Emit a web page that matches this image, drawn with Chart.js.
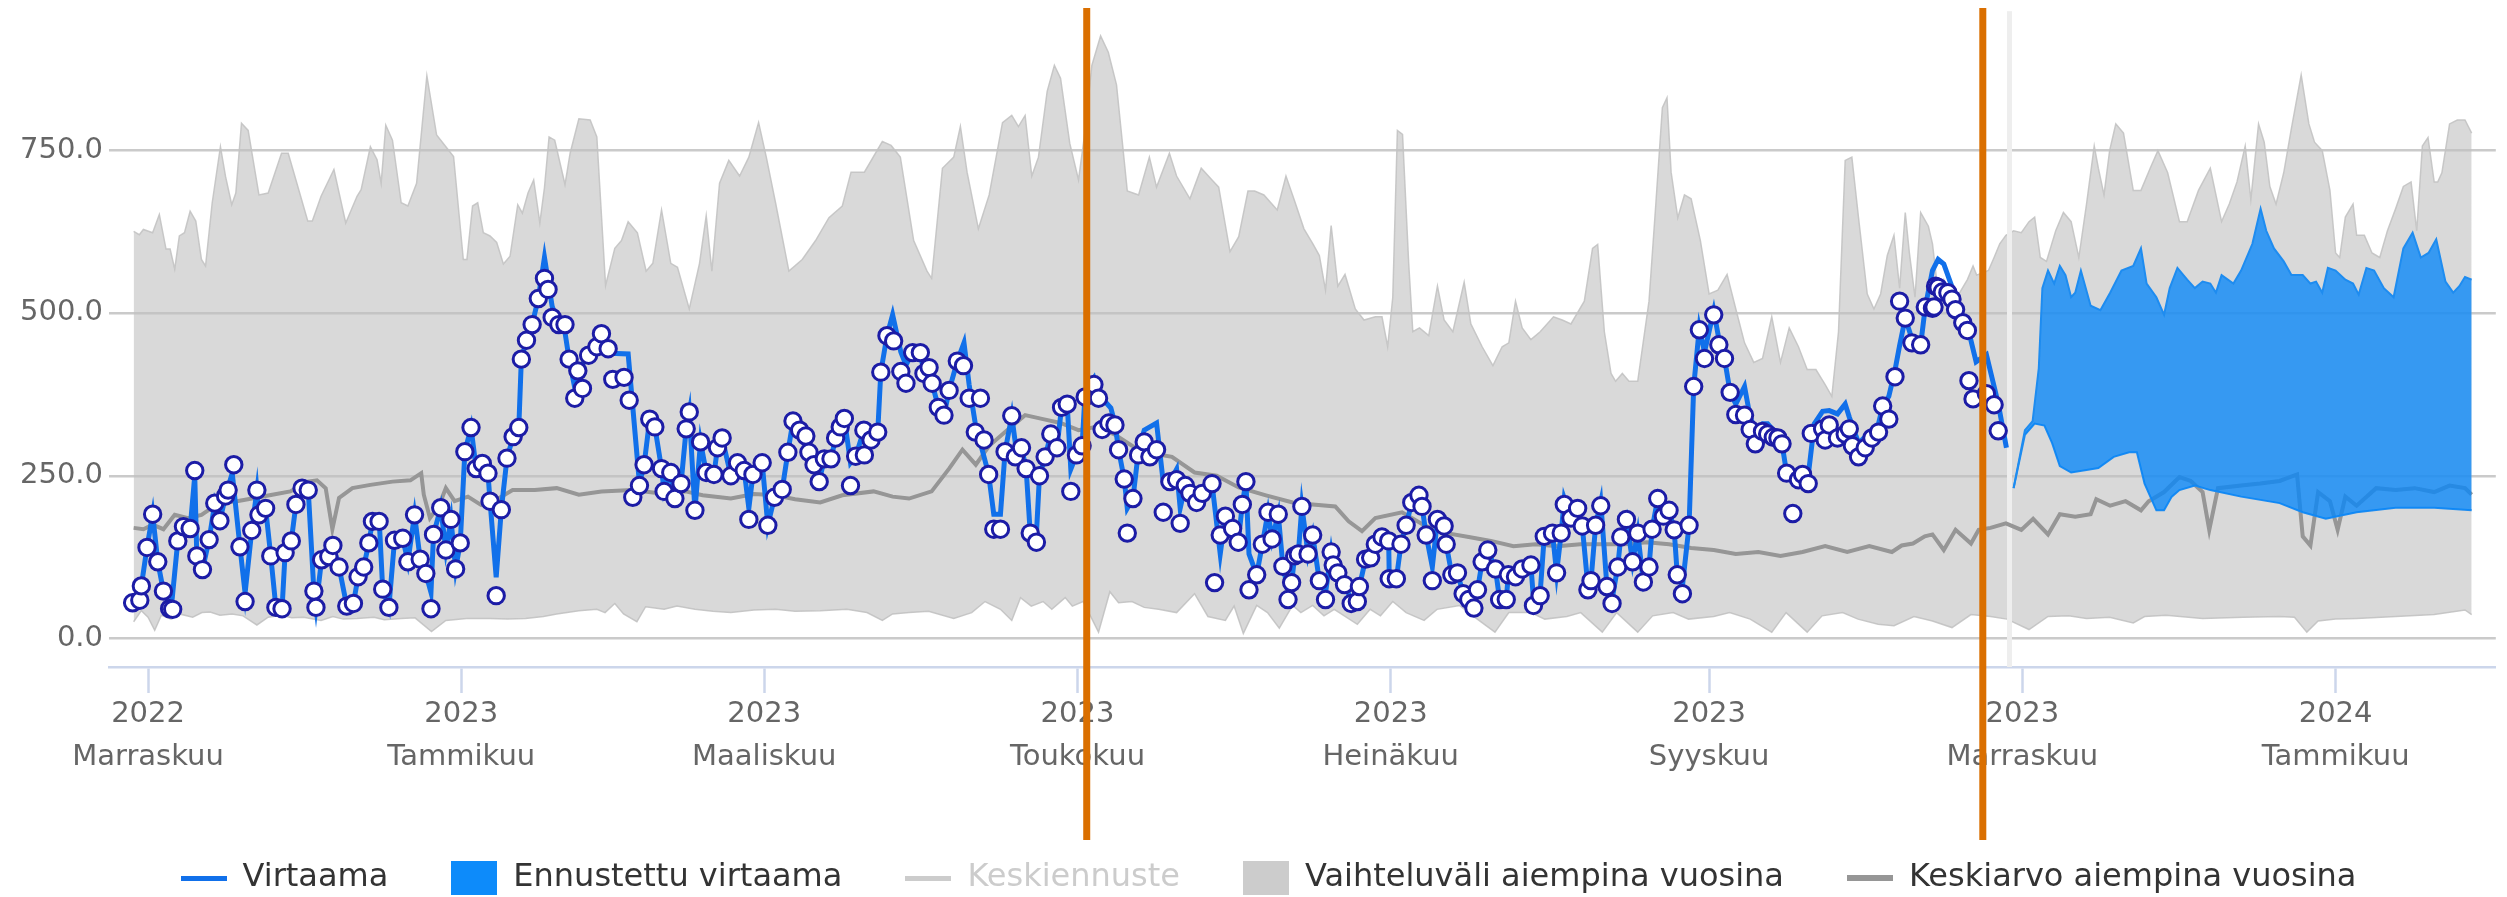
<!DOCTYPE html>
<html><head><meta charset="utf-8">
<script src="https://cdn.jsdelivr.net/npm/chart.js@4.4.0/dist/chart.umd.min.js"></script>
<style>html,body{margin:0;padding:0;background:#fff}#wrap{width:2507px;height:897px}</style>
</head><body><div id="wrap"><canvas id="c" width="2507" height="897"></canvas></div>
<script>
// x values are days counted from 2022-11-01
const tickDays = [0, 61, 120, 181, 242, 304, 365, 426];
const tickYears = ['2022','2023','2023','2023','2023','2023','2023','2024'];
const tickMonths = ['Marraskuu','Tammikuu','Maaliskuu','Toukokuu','Heinäkuu','Syyskuu','Marraskuu','Tammikuu'];
const yTickValues = [0, 250, 500, 750];
const nowDay = 362.5;
const orangeDays = [182.8, 357.3];

const flowLine = [[-3.0,55],[-1.3,81],[-0.2,140],[0.9,191],[1.9,118],[3.0,73],[4.5,45],[5.8,150],[6.9,172],[8.2,169],[9.1,250],[9.5,127],[10.6,106],[11.9,152],[13.0,208],[14.0,181],[15.1,219],[16.4,254],[17.9,141],[18.9,70],[20.2,166],[21.2,228],[21.6,190],[22.9,200],[23.9,127],[24.9,48],[26.1,46],[26.7,132],[27.9,150],[28.8,206],[30.0,235],[31.2,228],[32.3,73],[32.7,48],[33.8,121],[35.2,126],[36.0,143],[37.2,110],[38.7,50],[40.0,54],[40.9,95],[42.0,110],[43.0,147],[43.7,180],[45.0,185],[45.7,76],[46.9,48],[48.0,151],[49.6,154],[50.6,118],[51.9,190],[53.0,122],[54.1,100],[55.1,71],[55.6,160],[57.0,201],[58.0,136],[59.0,183],[59.9,107],[60.8,147],[61.7,287],[62.9,324],[63.9,261],[65.1,269],[66.2,254],[66.6,211],[67.8,94],[68.8,198],[69.9,277],[71.1,310],[72.2,324],[72.7,429],[73.7,458],[74.8,482],[76.0,522],[77.2,585],[78.7,510],[80.0,482],[81.2,470],[82.0,429],[83.1,385],[83.7,411],[84.6,420],[85.8,440],[87.2,450],[88.7,440],[90.0,438],[93.5,437],[95.7,238],[96.6,267],[97.7,337],[98.7,325],[100.0,261],[100.5,226],[101.8,255],[102.6,215],[103.8,238],[104.8,322],[105.4,348],[106.5,197],[107.6,302],[108.7,255],[110.2,252],[110.9,293],[111.8,308],[113.5,250],[114.8,270],[116.1,258],[117.0,200],[117.8,252],[119.6,270],[120.7,174],[122.0,217],[123.5,229],[124.6,286],[125.6,334],[126.9,320],[128.1,311],[128.7,286],[129.7,267],[130.7,241],[131.7,276],[133.0,276],[133.9,308],[134.8,325],[135.6,338],[136.8,270],[137.8,280],[139.4,320],[140.8,305],[142.1,317],[142.7,409],[143.9,465],[145.0,497],[146.6,440],[147.6,420],[148.9,439],[150.4,439],[151.1,407],[152.1,416],[152.7,392],[153.9,355],[155.0,343],[156.0,381],[157.6,426],[158.9,454],[159.9,390],[161.1,330],[162.1,300],[163.7,252],[164.7,191],[166.0,191],[166.9,287],[168.2,342],[168.9,300],[170.1,293],[171.0,261],[171.8,162],[173.0,160],[173.6,250],[174.7,279],[175.8,314],[177.0,293],[177.9,355],[179.0,360],[179.7,260],[180.8,282],[181.9,296],[182.5,380],[184.2,400],[185.1,375],[187.5,354],[188.3,330],[189.0,290],[190.1,245],[190.7,200],[191.8,215],[192.9,290],[194.0,320],[195.1,325],[196.4,331],[197.7,240],[199.0,241],[200.3,260],[201.0,200],[202.0,235],[202.9,225],[204.2,215],[205.3,223],[207.2,238],[208.8,130],[209.8,188],[211.2,169],[212.3,148],[213.1,206],[213.8,241],[214.4,130],[215.9,98],[217.0,145],[218.1,194],[218.9,153],[220.1,191],[221.0,111],[222.0,75],[222.7,86],[223.3,127],[224.0,130],[224.7,203],[225.9,130],[226.8,159],[228.1,89],[229.3,70],[230.4,133],[230.8,113],[231.7,101],[233.0,83],[234.3,60],[235.9,80],[237.1,122],[238.1,124],[239.0,145],[240.3,160],[241.6,150],[241.7,100],[243.1,92],[244.0,145],[245.0,174],[246.1,209],[247.5,225],[248.1,203],[248.9,159],[250.1,110],[251.1,183],[252.4,173],[252.8,145],[253.9,98],[255.0,101],[256.1,69],[257.2,60],[258.2,50],[258.9,75],[259.8,118],[260.9,136],[262.4,107],[263.2,60],[264.5,60],[264.9,98],[266.3,95],[267.6,107],[269.3,113],[269.8,60],[271.1,70],[271.9,157],[273.5,162],[274.3,101],[275.2,162],[275.8,215],[277.1,185],[278.4,200],[279.3,173],[280.4,80],[281.0,89],[281.9,174],[282.9,210],[284.1,80],[285.1,60],[286.2,110],[286.8,156],[287.9,183],[289.1,118],[290.1,162],[291.2,87],[292.3,110],[292.9,168],[294.0,215],[295.1,188],[296.2,197],[297.2,167],[297.8,98],[298.8,80],[300.1,174],[301.0,387],[302.1,477],[303.1,440],[304.9,503],[305.9,460],[307.0,430],[308.1,378],[309.2,360],[310.9,387],[312.0,340],[313.0,320],[314.4,330],[315.4,330],[316.5,320],[317.4,315],[318.2,299],[319.1,254],[320.3,240],[321.4,244],[322.2,252],[323.3,250],[324.5,330],[326.1,349],[327.4,350],[329.0,345],[330.5,360],[331.3,340],[333.1,300],[334.4,310],[335.7,320],[337.0,330],[337.8,357],[339.0,372],[340.2,412],[341.1,450],[342.2,492],[343.5,460],[345.2,451],[346.1,509],[347.5,565],[348.6,582],[349.7,575],[351.3,540],[352.8,505],[354.3,480],[356.0,425],[358.0,436],[360.3,361],[361.9,293]];

const flowObs = [[-3.0,55],[-1.6,59],[-1.3,81],[-0.2,140],[0.9,191],[1.9,118],[3.0,73],[4.2,46],[4.8,45],[5.8,150],[6.9,172],[8.2,169],[9.1,258],[9.5,127],[10.6,106],[11.9,152],[13.0,208],[14.0,181],[15.1,219],[15.6,228],[16.7,267],[17.9,141],[18.9,57],[20.2,166],[21.2,228],[21.6,190],[22.9,200],[23.9,127],[24.9,48],[26.1,46],[26.7,132],[27.9,150],[28.8,206],[30.0,231],[31.2,228],[32.3,73],[32.7,48],[33.8,121],[35.2,126],[36.0,143],[37.2,110],[38.7,50],[40.0,54],[40.9,95],[42.0,110],[43.0,147],[43.7,180],[45.0,180],[45.7,76],[46.9,48],[48.0,151],[49.6,154],[50.6,118],[51.9,190],[53.0,122],[54.1,100],[55.1,46],[55.6,160],[57.0,201],[58.0,136],[59.0,183],[59.9,107],[60.8,147],[61.7,287],[62.9,324],[63.9,261],[65.1,269],[66.2,254],[66.6,211],[67.8,66],[68.8,198],[69.9,277],[71.1,310],[72.2,324],[72.7,429],[73.7,458],[74.8,482],[76.0,522],[77.2,553],[77.9,536],[78.7,493],[80.0,482],[81.2,482],[82.0,429],[83.1,369],[83.7,411],[84.6,384],[85.8,435],[87.4,448],[88.3,468],[89.6,445],[90.5,398],[92.7,401],[93.7,366],[94.4,217],[95.7,235],[96.6,267],[97.7,337],[98.7,325],[100.0,261],[100.5,226],[101.8,255],[102.6,215],[103.8,238],[104.8,322],[105.4,348],[106.5,197],[107.6,302],[108.7,255],[110.2,252],[110.9,293],[111.8,308],[113.5,250],[114.8,270],[116.1,258],[117.0,183],[117.8,252],[119.6,270],[120.7,174],[122.0,217],[123.5,229],[124.6,286],[125.6,334],[126.9,320],[128.1,311],[128.7,286],[129.7,267],[130.7,241],[131.7,276],[133.0,276],[133.9,308],[134.8,325],[135.6,338],[136.8,235],[137.8,280],[139.4,320],[139.5,282],[140.8,305],[142.1,317],[142.7,409],[143.9,465],[145.2,457],[146.6,410],[147.6,392],[148.9,439],[150.4,439],[151.1,407],[152.1,416],[152.7,392],[153.9,355],[155.0,343],[156.0,381],[157.6,426],[158.8,419],[159.9,369],[161.1,317],[162.1,369],[162.8,305],[163.7,252],[164.7,168],[166.0,168],[166.9,287],[168.2,342],[168.9,279],[170.1,293],[171.0,261],[171.8,162],[173.0,148],[173.6,250],[174.7,279],[175.8,314],[177.0,293],[177.9,355],[179.0,360],[179.7,226],[180.8,282],[181.9,296],[182.5,371],[184.2,390],[185.1,369],[185.8,321],[187.1,331],[188.3,328],[189.0,290],[190.1,245],[190.7,162],[191.8,215],[192.9,282],[194.0,302],[195.1,279],[196.4,290],[197.7,194],[199.0,241],[200.3,244],[201.0,177],[202.0,235],[202.9,223],[204.2,209],[205.3,223],[207.2,238],[207.7,86],[208.8,159],[209.8,188],[211.2,169],[212.3,148],[213.1,206],[213.8,241],[214.4,75],[215.9,98],[217.0,145],[218.1,194],[218.9,153],[220.1,191],[221.0,111],[222.0,60],[222.7,86],[223.3,127],[224.0,130],[224.7,203],[225.9,130],[226.8,159],[228.1,89],[229.3,60],[230.4,133],[230.8,113],[231.7,101],[233.0,83],[234.3,54],[235.5,57],[235.9,80],[237.1,122],[238.1,124],[239.0,145],[240.3,156],[241.6,150],[241.7,92],[243.1,92],[244.0,145],[245.0,174],[246.1,209],[247.5,220],[248.1,203],[248.9,159],[250.1,89],[251.1,183],[252.4,173],[252.8,145],[253.9,98],[255.0,101],[256.1,69],[257.2,60],[258.2,47],[258.9,75],[259.8,118],[260.9,136],[262.4,107],[263.2,60],[264.5,60],[264.9,98],[266.3,95],[267.6,107],[269.3,113],[269.8,51],[271.1,66],[271.9,157],[273.5,162],[274.3,101],[275.2,162],[275.8,206],[277.1,185],[278.4,200],[279.3,173],[280.4,75],[281.0,89],[281.9,174],[282.9,204],[284.1,80],[285.1,54],[286.2,110],[286.8,156],[287.9,183],[289.1,118],[290.1,162],[291.2,87],[292.3,110],[292.9,168],[294.0,215],[295.1,188],[296.2,197],[297.2,167],[297.8,98],[298.8,69],[300.1,174],[301.0,387],[302.1,474],[303.1,430],[304.9,497],[305.9,451],[307.0,430],[308.1,378],[309.2,344],[310.9,343],[312.0,321],[313.0,299],[314.4,318],[315.4,314],[316.5,309],[317.4,308],[318.2,299],[319.1,254],[320.3,192],[321.4,244],[322.2,252],[323.3,238],[323.9,315],[326.1,322],[326.6,305],[327.4,328],[329.0,308],[330.5,314],[331.3,322],[331.9,296],[333.1,279],[334.4,293],[335.7,308],[337.0,317],[337.8,357],[339.0,337],[340.2,402],[341.1,518],[342.2,492],[343.5,454],[345.2,451],[346.1,509],[347.5,507],[347.8,509],[348.1,541],[348.6,539],[349.4,532],[350.5,531],[351.3,521],[352.0,505],[353.4,485],[354.3,473],[354.6,396],[355.4,368],[358.0,376],[359.5,359],[360.3,319]];

const rangeMax = [[-2.8,625],[-1.7,620],[-0.9,628],[0.9,623],[2.2,651],[3.5,598],[4.3,598],[5.2,567],[6.1,618],[7.1,623],[8.2,656],[9.3,641],[10.4,582],[11.2,572],[12.5,669],[14.1,755],[15.1,709],[16.3,666],[17.1,684],[18.2,791],[19.5,780],[21.6,681],[23.4,684],[26,745],[27.3,745],[31.1,641],[32,641],[33.7,679],[36.2,720],[38.5,638],[40.7,679],[41.5,689],[43.3,755],[44.6,735],[45.4,699],[46.3,788],[47.6,765],[49.3,669],[50.6,664],[52.3,699],[54.3,864],[56.2,773],[58,755],[59.5,740],[61.4,582],[62.1,582],[63.2,664],[64.2,669],[65.3,623],[66.6,618],[67.9,608],[69.2,575],[70.5,587],[72,666],[72.9,653],[74,684],[75.1,704],[76.3,638],[77.2,692],[78.1,770],[79.2,765],[81.2,697],[82.2,745],[83.9,798],[86.1,796],[87.4,770],[89.1,542],[90.9,599],[92.2,611],[93.5,640],[95.3,623],[97,564],[98.3,576],[100,658],[101.8,576],[103.1,570],[105.4,506],[107.4,576],[108.7,649],[109.8,564],[111.3,699],[113.1,734],[115.2,710],[117,739],[118.9,792],[120.4,739],[122.2,669],[124.8,564],[127.4,582],[130,611],[132.6,646],[135.2,664],[136.9,716],[139.5,716],[143,763],[144.7,757],[146.5,739],[149.1,611],[151.7,564],[152.6,553],[154.7,722],[156.9,739],[158.2,786],[159.5,716],[161.7,629],[163.8,681],[166.4,792],[168.2,803],[169.5,786],[170.8,803],[172.1,710],[173.4,739],[175.1,840],[176.5,880],[177.7,860],[179.5,760],[181.2,704],[182.5,780],[183.8,880],[185.5,925],[187,900],[188.6,850],[190.7,687],[192.9,681],[195,739],[196.4,693],[198.9,745],[200.3,710],[202.9,675],[205.1,722],[207.2,704],[208.5,693],[210.7,594],[212.4,617],[214.2,687],[215.5,687],[217.3,681],[219.9,658],[221.6,710],[223.4,669],[225.1,629],[226.9,605],[228.1,588],[229.3,535],[230.4,634],[231.7,541],[233.1,559],[235.1,506],[236.8,489],[239,494],[240.3,494],[241.4,448],[242.4,524],[243.3,780],[244.3,774],[245.5,576],[246.3,471],[247.6,477],[249.4,465],[251.1,541],[252.4,489],[254.1,471],[256.3,547],[257.6,483],[259.8,448],[261.9,419],[263.7,448],[265,454],[266.3,518],[267.6,477],[269.3,459],[271.1,471],[273.7,494],[275.4,489],[277.1,483],[279.7,518],[281.3,599],[282.3,605],[283.6,471],[284.9,407],[285.8,395],[287.1,407],[288.4,395],[290.1,395],[292.3,518],[293.6,664],[294.9,815],[295.8,830],[296.6,716],[297.9,646],[299.2,681],[300.5,675],[302.3,611],[304,529],[305.7,535],[307.5,559],[309.2,506],[310.9,454],[312.7,424],[314.4,430],[316.2,494],[317.9,424],[319.6,477],[321.4,448],[323.1,413],[324.8,413],[326.6,390],[327.9,372],[329.2,471],[330.5,734],[331.8,739],[333.1,646],[334.8,529],[336.1,506],[337.4,529],[338.7,588],[340,619],[341.1,538],[342.2,654],[343,592],[344.1,524],[345.2,654],[346.7,633],[347.5,606],[348.6,531],[349.7,551],[351.3,524],[352.8,531],[354.3,551],[355.4,572],[356.1,558],[358.4,565],[359.5,585],[360.6,606],[361.8,619],[363.3,626],[364.8,623],[366.3,640],[367.4,647],[368.5,585],[369.7,579],[371.5,626],[373,654],[374.5,640],[376,585],[377.5,667],[379,756],[379.8,722],[380.9,681],[382,749],[383.2,790],[384.7,776],[386.6,688],[388.1,688],[389.9,722],[391.4,749],[393.3,715],[395.6,640],[397.1,640],[399.3,688],[401.6,722],[403.8,640],[405.3,667],[406.8,701],[408.4,756],[409.5,674],[411,790],[412.1,762],[413.2,694],[414.4,667],[415.9,715],[417.4,783],[419.3,865],[420.8,790],[421.9,762],[423.4,749],[424.9,688],[426,592],[426.8,585],[427.9,647],[429.4,667],[430.1,619],[431.6,619],[433.1,592],[434.6,585],[436.1,626],[437.7,660],[439.2,694],[440.7,701],[441.8,626],[442.9,756],[444,769],[445.2,701],[445.9,701],[446.7,715],[448.2,790],[449.7,796],[451.2,796],[452.5,776]];

const rangeMin = [[-2.8,26],[-1.3,43],[0,33],[1.3,13],[2.6,36],[4.5,30],[6.1,38],[8.7,33],[10.5,40],[12.1,41],[14,36],[16.4,38],[18.5,35],[21.2,21],[23.4,33],[26,36],[28,32],[30.3,33],[33.7,28],[36,34],[38,30],[40.7,31],[44,33],[46,29],[49.3,31],[52,32],[55.2,11],[58,28],[62,31],[66.6,31],[70,30],[73.5,31],[77,34],[79.6,38],[83.9,43],[87.4,45],[89,40],[90.9,54],[92.6,38],[95.2,26],[96.9,49],[100.5,45],[103,50],[106.5,45],[110,42],[113.5,40],[118,44],[122.2,45],[126,42],[130.9,43],[136.1,45],[140,40],[143,28],[145,38],[148.2,40],[152,42],[156.9,31],[160.4,40],[163,57],[166,45],[168.2,28],[169.9,63],[172,50],[174.3,57],[176,45],[178.6,63],[180,50],[182.1,57],[185.1,10],[187.3,72],[189,55],[191.6,57],[194,48],[196.8,45],[200.3,40],[203.8,69],[206.4,34],[209.8,28],[211.5,50],[213.3,8],[215.9,51],[218,40],[220.3,16],[222.9,51],[224.5,40],[226.8,51],[229,35],[231,45],[235.5,22],[238,45],[240,35],[242.4,57],[245,40],[248.5,28],[251,45],[255.4,51],[258,35],[262.3,10],[265,40],[269.3,40],[272,30],[276.3,34],[279,40],[283.2,10],[286,40],[290.1,10],[293,35],[297,40],[300,30],[304.9,34],[308,40],[312,30],[316.2,10],[319,40],[323.1,10],[326,35],[330,40],[333,30],[336.9,22],[340,20],[343.9,34],[347.5,27],[351.3,17],[355,37],[358.8,34],[362,30],[366.3,14],[370,34],[374,35],[377.5,31],[382,33],[386.6,24],[388.8,34],[393,36],[400.1,31],[408,33],[415.1,34],[418,33],[420.4,10],[422.6,27],[426,30],[430.1,31],[437.7,34],[445.2,37],[451.2,44],[452.5,37]];

const meanPrev = [[-2.8,170],[-0.9,168],[0.9,175],[3,168],[5.2,190],[7.8,185],[10.4,190],[13.8,208],[17.3,211],[20.8,216],[24.2,221],[27.7,226],[31.1,241],[32.9,243],[34.6,231],[35.9,168],[37.2,216],[39.8,231],[43.3,236],[47.6,241],[51.1,243],[53.2,254],[53.7,221],[54.9,185],[56.7,205],[58,231],[59.7,211],[62.3,218],[64.9,205],[68.4,216],[71,228],[75.3,228],[79.6,231],[83.9,221],[88.3,226],[94.3,228],[99.5,223],[104.7,226],[108,220],[113.5,215],[118,222],[122.2,220],[126,214],[130.9,209],[135.2,220],[141.3,226],[145,218],[148.2,215],[152.6,226],[156,261],[158.6,290],[161.2,267],[163.8,296],[167.3,320],[170.8,343],[174.3,337],[177.7,331],[181.2,320],[184.7,325],[188.1,314],[191.6,296],[195.1,285],[199.4,279],[203.8,255],[208.1,250],[212.4,232],[217.7,220],[222.9,209],[226.8,206],[231.2,203],[233.8,180],[236.4,165],[239,185],[244.2,194],[248.5,174],[252.9,162],[257.2,156],[261.5,150],[265.9,142],[270.2,145],[274.5,142],[278.9,145],[283.2,145],[287.5,145],[291.9,148],[296.2,145],[300.5,139],[304.9,136],[309.2,130],[313.6,133],[317.9,127],[322.2,133],[326.6,142],[330.9,133],[335.2,142],[339.6,133],[341.5,143],[343.7,146],[346,157],[347.5,160],[349.7,136],[352,167],[355,146],[356.5,167],[358.8,170],[361.8,177],[364.8,167],[367.1,184],[370,160],[372.3,191],[375.3,187],[378.3,191],[379.4,214],[382.1,204],[385.1,211],[388.1,197],[389.6,211],[392.6,225],[395.6,248],[397.8,242],[400.1,225],[401.4,167],[403.1,231],[407.6,235],[411.3,238],[415.1,242],[418.5,252],[419.6,157],[421.1,143],[422.6,225],[424.9,211],[426.4,167],[427.9,218],[430.1,204],[433.9,231],[437.7,228],[441.4,231],[445.2,225],[448.2,235],[451.2,231],[452.5,221]];

const forecastHigh = [[363.3,231],[365.5,320],[367,334],[368.2,415],[368.9,538],[370,565],[371.2,545],[372.3,572],[373.4,558],[374.5,524],[375.3,531],[376.4,565],[378.3,511],[380.2,504],[382.1,531],[384.3,565],[386.6,572],[388.1,599],[389.2,545],[391.1,524],[392.6,497],[393.7,538],[395.2,569],[397.1,551],[398.6,538],[400.1,548],[401.6,545],[402.7,531],[403.8,558],[406.1,545],[407.6,565],[409.8,606],[411.4,660],[412.5,626],[414,599],[415.9,579],[417.4,558],[419.6,558],[421.1,545],[422.2,548],[423.4,531],[424.5,569],[426,565],[427.9,551],[429.4,545],[430.5,528],[432,569],[433.5,565],[435.4,538],[437.3,524],[439.2,599],[441,623],[442.6,585],[444.1,592],[445.6,613],[447.4,548],[448.9,531],[450.1,541],[451.2,555],[452.5,551]];
const forecastLow = [[363.3,231],[365.5,313],[367.4,330],[369.3,327],[370.8,300],[372.3,265],[374.5,255],[377.5,259],[379.8,262],[382.8,279],[385.8,286],[387.3,286],[388.8,238],[391.1,197],[392.6,197],[394.1,218],[395.6,228],[398.6,235],[401.6,228],[407.6,218],[415.1,208],[419.6,194],[424.1,184],[430.1,194],[437.7,201],[445.2,201],[452.5,197]];

// axis window (days / flow units)
const xMin = -7.6, xMax = 457.2, yMin = -43.5, yMax = 963;

const FONT = "'DejaVu Sans', 'Liberation Sans', sans-serif";
const PAD = {top: 7, right: 4, bottom: -7, left: 0};
const LEGEND_SHIFT = 17;
const toXY = a => a.map(p => ({x: p[0], y: p[1]}));
function swatch(color, w, h) {
  const c = document.createElement('canvas'); c.width = w; c.height = h;
  const g = c.getContext('2d'); g.fillStyle = color; g.fillRect(0, 0, w, h); return c;
}
const legendEntries = [
  {text: 'Virtaama', style: swatch('#1170ea', 46, 5), color: '#333333', ds: 1},
  {text: 'Ennustettu virtaama', style: swatch('#0d8bfa', 46, 34), color: '#333333', ds: 2},
  {text: 'Keskiennuste', style: swatch('#cccccc', 46, 5), color: '#cccccc', ds: 7},
  {text: 'Vaihteluväli aiempina vuosina', style: swatch('#cccccc', 46, 34), color: '#333333', ds: 5},
  {text: 'Keskiarvo aiempina vuosina', style: swatch('#969696', 46, 6), color: '#333333', ds: 4}
];

const markerLines = {
  id: 'markerLines',
  afterLayout(chart) {
    if (chart.legend) { chart.legend.left += LEGEND_SHIFT; chart.legend.right += LEGEND_SHIFT; }
  },
  afterDatasetDraw(chart, args) {
    if (args.index !== 5) return;
    const {ctx, chartArea} = chart;
    const x = chart.scales.x.getPixelForValue(nowDay);
    ctx.save(); ctx.fillStyle = '#eeeeee';
    ctx.fillRect(x - 2.5, chartArea.top, 5, chartArea.bottom - chartArea.top);
    ctx.restore();
  },
  afterDraw(chart) {
    const {ctx} = chart;
    ctx.save(); ctx.fillStyle = '#da6f00';
    orangeDays.forEach(d => {
      const x = chart.scales.x.getPixelForValue(d);
      ctx.fillRect(x - 3.5, 8, 7, 832);
    });
    ctx.restore();
  }
};

new Chart(document.getElementById('c'), {
  type: 'line',
  data: {
    datasets: [
      {label: 'Havainnot', data: toXY(flowObs), showLine: false, pointRadius: 8.2, pointBorderWidth: 3,
       pointBackgroundColor: '#ffffff', pointBorderColor: '#1c1ca6', order: 0},
      {label: 'Virtaama', data: toXY(flowLine), borderColor: '#1170ea', borderWidth: 5, pointRadius: 0, order: 1},
      {label: 'Ennustettu virtaama', data: toXY(forecastHigh), borderColor: '#1e8cf0', borderWidth: 2,
       backgroundColor: 'rgba(5,134,250,0.77)', fill: 3, pointRadius: 0, order: 2},
      {label: 'Ennuste alaraja', data: toXY(forecastLow), borderColor: '#1e8cf0', borderWidth: 2, pointRadius: 0, order: 3},
      {label: 'Keskiarvo aiempina vuosina', data: toXY(meanPrev), borderColor: '#969696', borderWidth: 4, pointRadius: 0, order: 4},
      {label: 'Vaihteluväli aiempina vuosina', data: toXY(rangeMax), borderColor: 'rgba(195,195,195,0.9)', borderWidth: 1.5,
       backgroundColor: 'rgba(192,192,192,0.6)', fill: 6, pointRadius: 0, order: 5},
      {label: 'Vaihteluväli alaraja', data: toXY(rangeMin), borderColor: 'rgba(195,195,195,0.9)', borderWidth: 1.5, pointRadius: 0, order: 6},
      {label: 'Keskiennuste', data: [], borderColor: '#cccccc', hidden: true, pointRadius: 0, order: 7}
    ]
  },
  options: {
    responsive: false, devicePixelRatio: 1, animation: false, events: [],
    layout: {padding: PAD},
    plugins: {
      tooltip: {enabled: false},
      legend: {
        position: 'bottom',
        labels: {
          usePointStyle: true, pointStyleWidth: 46, boxHeight: 32, padding: 63,
          font: {family: FONT, size: 32}, color: '#333333',
          generateLabels: () => legendEntries.map(e => ({
            text: e.text, pointStyle: e.style, fillStyle: 'rgba(0,0,0,0)', strokeStyle: 'rgba(0,0,0,0)',
            lineWidth: 0, hidden: false, fontColor: e.color, datasetIndex: e.ds
          }))
        }
      }
    },
    scales: {
      x: {
        type: 'linear', min: xMin, max: xMax,
        afterBuildTicks: s => { s.ticks = tickDays.map(v => ({value: v})); },
        afterFit: s => { s.paddingLeft = 0; s.paddingRight = 0; s.height = s.chart.height - PAD.bottom - s.chart.legend.height - 667; },
        grid: {drawOnChartArea: false, drawTicks: true, tickLength: 26, tickColor: '#ccd6eb', tickWidth: 2.5},
        border: {display: true, color: '#ccd6eb', width: 2.5},
        ticks: {autoSkip: false, maxRotation: 0, minRotation: 0, padding: 0, color: '#666666',
          font: {family: FONT, size: 29, lineHeight: 1.48},
          callback: v => { const k = tickDays.indexOf(v); return [tickYears[k], tickMonths[k]]; }}
      },
      y: {
        type: 'linear', min: yMin, max: yMax,
        afterBuildTicks: s => { s.ticks = yTickValues.map(v => ({value: v})); },
        afterFit: s => { s.width = 109; s.paddingTop = 0; s.paddingBottom = 0; },
        grid: {color: '#cacaca', lineWidth: 2.5, drawTicks: false},
        border: {display: false},
        ticks: {padding: 6, color: '#666666', font: {family: FONT, size: 29}, callback: v => Number(v).toFixed(1)}
      }
    }
  },
  plugins: [markerLines]
});
</script></body></html>
